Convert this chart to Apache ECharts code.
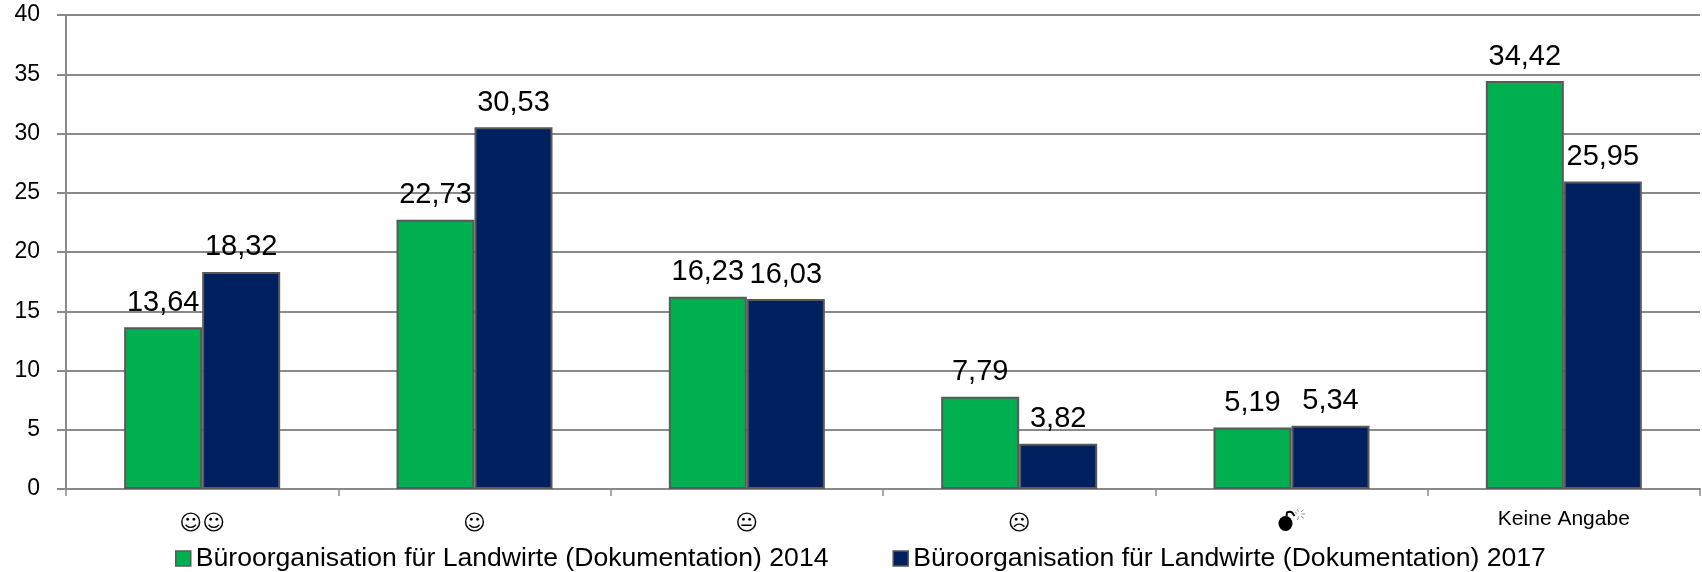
<!DOCTYPE html>
<html>
<head>
<meta charset="utf-8">
<style>html,body{margin:0;padding:0;background:#fff}#c{width:1702px;height:572px}</style>
<script src="https://cdn.jsdelivr.net/npm/echarts@6/dist/echarts.min.js"></script>
</head>
<body>
<div id="c"></div>
<script>
const categories = ['☺☺', '☺', '😐', '☹', '💣', 'Keine Angabe'];
const seriesName2014 = 'Büroorganisation für Landwirte (Dokumentation) 2014';
const seriesName2017 = 'Büroorganisation für Landwirte (Dokumentation) 2017';
const values2014 = [13.64, 22.73, 16.23, 7.79, 5.19, 34.42];
const values2017 = [18.32, 30.53, 16.03, 3.82, 5.34, 25.95];

const FONT = '"Liberation Sans", Arial, sans-serif';
const AXIS = '#8a8a8a';
const bombSvg = 'data:image/svg+xml;utf8,' + encodeURIComponent(
  '<svg xmlns="http://www.w3.org/2000/svg" width="28" height="23" viewBox="0 0 28 23">' +
  '<ellipse cx="8" cy="14.5" rx="7" ry="7.5" fill="#000"/>' +
  '<path d="M9 7.5 L9.5 3.5 Q13 2 15 4 L17 7" fill="none" stroke="#000" stroke-width="2"/>' +
  '<g stroke="#999" stroke-width="1"><path d="M24 5 L28 5"/><path d="M21 3 L20 0"/>' +
  '<path d="M23.5 3 L26 0.5"/><path d="M23.5 7 L26.5 9.5"/><path d="M21 7.5 L20 11"/><path d="M19 5 L18 3"/></g></svg>');
const fmt = p => p.value.toFixed(2).replace('.', ',');
const barSeries = (name, data, color) => ({
  name, type: 'bar', data, barWidth: 78, barGap: 0,
  itemStyle: { color, borderColor: '#595959', borderWidth: 2 },
  label: { show: true, position: 'top', distance: 10, formatter: fmt,
           fontFamily: FONT, fontSize: 29, color: '#000' }
});
const chart = echarts.init(document.getElementById('c'), null, { renderer: 'canvas' });
chart.setOption({
  animation: false,
  backgroundColor: '#fff',
  grid: { left: 66, right: 2, top: 15, bottom: 83 },
  legend: {
    left: 170, top: 540, itemWidth: 15, itemHeight: 15, itemGap: 64,
    icon: 'rect',
    itemStyle: { borderColor: '#595959', borderWidth: 1.5 },
    textStyle: { fontFamily: FONT, fontSize: 26.6, color: '#000' },
    data: [seriesName2014, seriesName2017]
  },
  xAxis: {
    type: 'category', data: categories,
    axisLine: { lineStyle: { color: AXIS, width: 2 } },
    axisTick: { show: true, alignWithLabel: false, length: 7, lineStyle: { color: AXIS, width: 1.5 } },
    axisLabel: {
      margin: 20, interval: 0,
      formatter: v => v === 'Keine Angabe' ? '{t|' + v + '}' : (v === '💣' ? '{b|}' : '{f|' + v + '}'),
      rich: {
        t: { fontFamily: FONT, fontSize: 21, color: '#000' },
        f: { fontFamily: '"DejaVu Sans", "Noto Sans", sans-serif', fontSize: 22, color: '#000', padding: [4, 0, 0, 0] },
        b: { width: 28, height: 23, backgroundColor: { image: bombSvg } }
      }
    }
  },
  yAxis: {
    type: 'value', min: 0, max: 40, interval: 5,
    axisLine: { show: true, lineStyle: { color: AXIS, width: 2 } },
    axisTick: { show: true, length: 9, lineStyle: { color: AXIS, width: 2 } },
    splitLine: { show: true, lineStyle: { color: AXIS, width: 2 } },
    axisLabel: { margin: 26, fontFamily: FONT, fontSize: 23, color: '#000' }
  },
  series: [barSeries(seriesName2014, values2014, '#00B050'), barSeries(seriesName2017, values2017, '#002060')]
});
</script>
</body>
</html>
